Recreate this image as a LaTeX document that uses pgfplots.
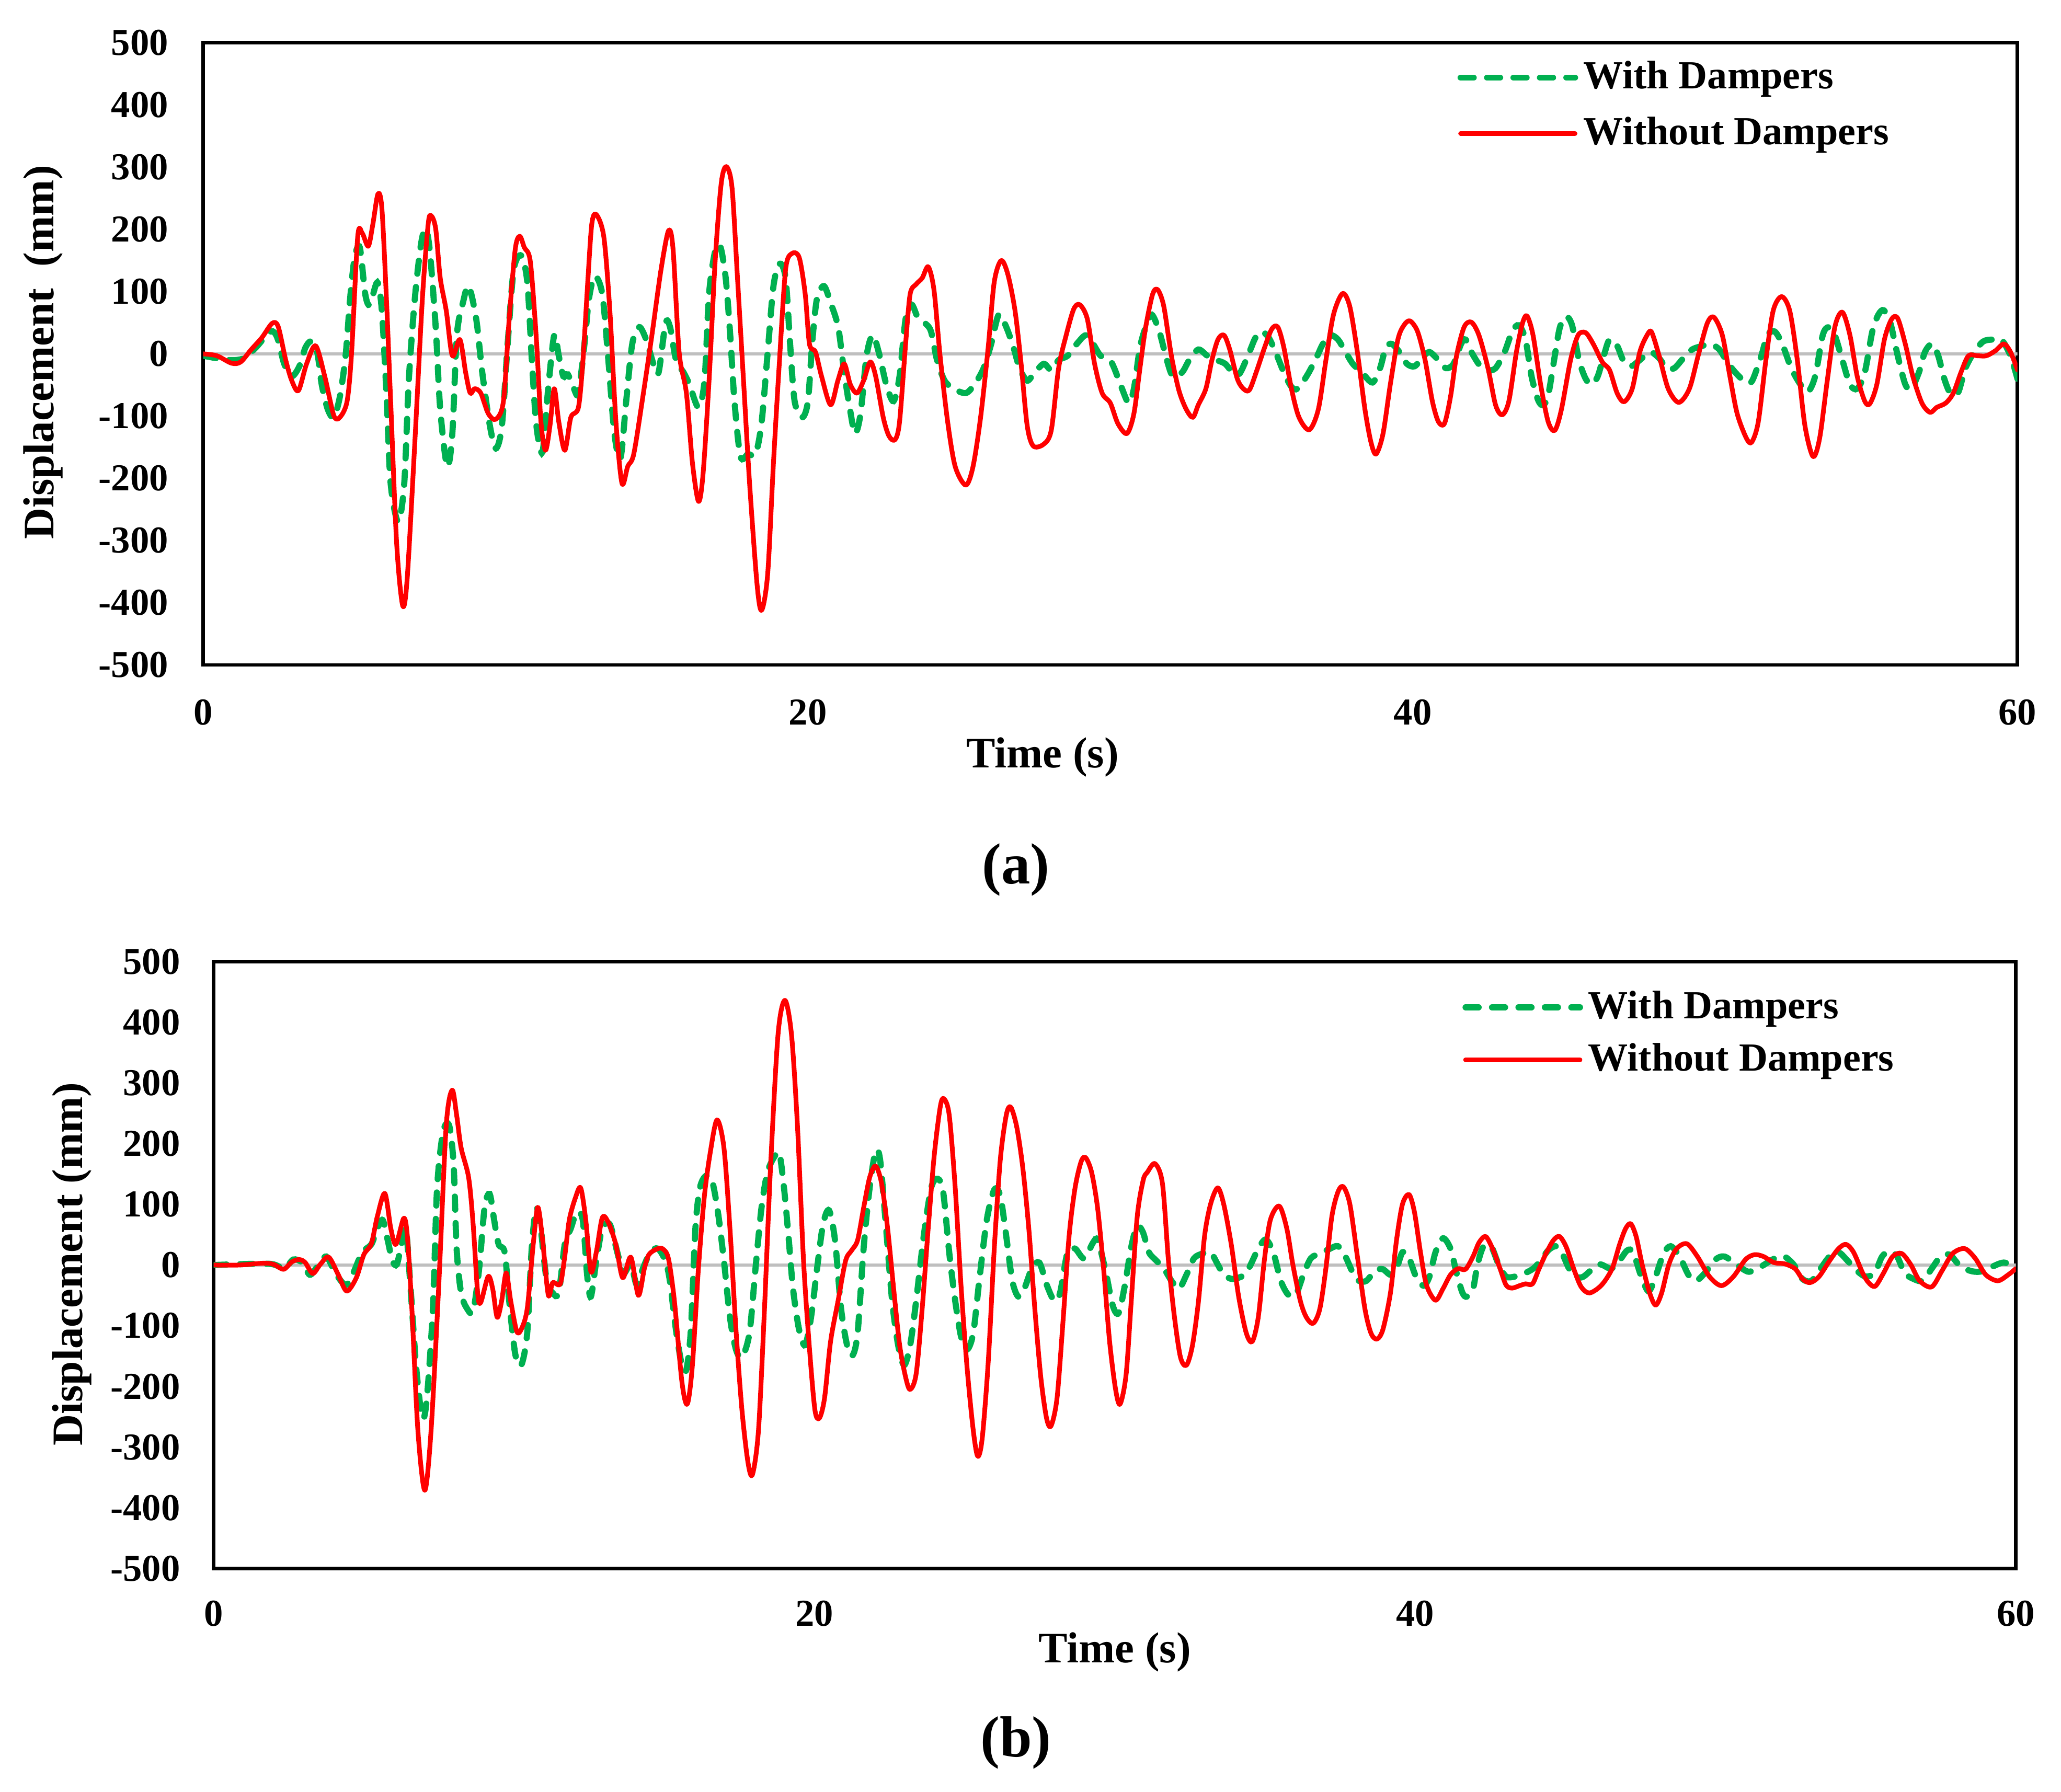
\documentclass[border=0pt]{standalone}
\usepackage{fontspec}
\setmainfont{Liberation Serif}
\usepackage{pgfplots}
\pgfplotsset{compat=1.18}
\definecolor{dgreen}{RGB}{0,176,80}
\definecolor{zgray}{RGB}{191,191,191}
\definecolor{dred}{RGB}{255,0,0}
\pgfplotsset{
  myaxis/.style={
    scale only axis, xmin=0, xmax=60, ymin=-500, ymax=500,
    xtick={0,20,40,60}, ytick={-500,-400,...,500},
    major tick length=0pt,
    axis line style={line width=1pt, black},
    /pgf/number format/assume math mode=true,
    /pgf/number format/1000 sep={},
    ticklabel style={font=\bfseries\fontsize{10.5}{12}\selectfont},
    legend cell align=left,
    legend image code/.code={\draw[##1] (0cm,0cm) -- (1.11cm,0cm);},
  },
  wd/.style={dgreen, line width=1.7pt, line cap=round, dash pattern=on 3.6pt off 3.7pt, smooth, tension=0.5},
  wo/.style={dred, line width=1.3pt, line cap=round, line join=round, smooth, tension=0.5},
}
\begin{document}
\begin{tikzpicture}
\path (0,0) rectangle (20cm,-17.392cm);
% ---------------- panel (a)
\begin{axis}[myaxis, at={(1.9716cm,-6.4536cm)}, anchor=south west, width=17.606cm, height=6.038cm,
  yticklabel style={xshift=-0.215cm}, xticklabel style={yshift=-0.21cm},
  legend style={at={(0.691,0.980)}, anchor=north west, draw=none, fill=none, inner sep=0pt,
    font=\bfseries\fontsize{11}{13}\selectfont, row sep=0.12cm, column sep=0pt, nodes={inner sep=0.05cm}}]
\addplot[zgray, line width=0.8pt, forget plot] coordinates {(0,0) (60,0)};
\addplot[wd] coordinates {
(0,-3) (0.45,-7) (0.94,-10) (1.34,-7) (1.74,10) (2.23,36) (2.45,26) (2.68,-16) (2.93,-36) (3.18,-20) (3.38,10) (3.57,20) (3.77,3) (3.92,-49) (4.12,-89) (4.32,-102) (4.52,-69) (4.71,-3) (4.86,89) (5.01,155) (5.18,171) (5.36,96) (5.51,79) (5.76,115) (5.91,69) (6.06,-63) (6.2,-208) (6.45,-270) (6.65,-208) (6.8,-43) (7.0,89) (7.2,175) (7.35,201) (7.49,168) (7.69,43) (7.84,-89) (8.07,-181) (8.24,-128) (8.39,30) (8.59,82) (8.78,109) (9.03,56) (9.23,-30) (9.48,-115) (9.68,-152) (9.88,-115) (10.08,23) (10.27,135) (10.52,158) (10.72,115) (10.87,-10) (11.02,-115) (11.22,-158) (11.41,-56) (11.61,30) (11.76,-3) (11.91,-36) (12.06,-33) (12.26,-56) (12.41,-63) (12.61,16) (12.76,89) (12.95,125) (13.2,96) (13.4,-10) (13.6,-128) (13.8,-168) (13.99,-76) (14.19,16) (14.42,43) (14.65,23) (14.89,-16) (15.06,-30) (15.29,49) (15.44,43) (15.64,-10) (15.89,-30) (16.08,-49) (16.38,-86) (16.58,-43) (16.73,96) (16.93,165) (17.1,173) (17.28,122) (17.43,30) (17.57,-76) (17.77,-165) (18.02,-161) (18.27,-161) (18.47,-109) (18.67,3) (18.86,109) (19.06,145) (19.26,122) (19.41,16) (19.56,-76) (19.81,-102) (20.0,-76) (20.15,23) (20.3,89) (20.53,109) (20.75,82) (21.0,43) (21.2,-30) (21.39,-89) (21.56,-128) (21.74,-96) (21.94,-3) (22.14,30) (22.34,3) (22.59,-49) (22.83,-76) (23.03,-36) (23.23,56) (23.43,79) (23.63,59) (23.88,49) (24.07,36) (24.27,-10) (24.52,-43) (24.82,-56) (25.22,-63) (25.51,-49) (25.81,-23) (26.06,16) (26.31,63) (26.56,43) (26.8,10) (27.0,-23) (27.25,-43) (27.5,-30) (27.8,-16) (28.05,-26) (28.29,-10) (28.59,-3) (28.89,16) (29.19,30) (29.43,16) (29.68,-3) (29.98,-10) (30.13,-23) (30.38,-55) (30.61,-79) (30.78,-56) (30.98,10) (31.17,43) (31.37,63) (31.62,36) (31.87,-10) (32.07,-36) (32.37,-30) (32.61,-10) (32.91,7) (33.21,-3) (33.51,-10) (33.8,-16) (34.1,-33) (34.3,-30) (34.6,3) (34.8,26) (35.0,36) (35.24,26) (35.49,0) (35.74,-30) (35.99,-53) (36.19,-56) (36.49,-36) (36.78,-10) (37.03,16) (37.28,30) (37.53,23) (37.78,3) (38.02,-16) (38.32,-30) (38.67,-46) (38.92,-23) (39.11,10) (39.31,16) (39.56,3) (39.81,-16) (40.06,-20) (40.31,-7) (40.55,3) (40.85,-10) (41.1,-23) (41.35,-16) (41.6,16) (41.75,23) (41.94,3) (42.24,-20) (42.49,-26) (42.74,-23) (43.04,3) (43.29,36) (43.51,46) (43.73,23) (43.93,-36) (44.13,-72) (44.28,-82) (44.47,-69) (44.72,3) (44.87,43) (45.07,60) (45.27,46) (45.5,-10) (45.72,-40) (45.92,-49) (46.12,-36) (46.32,-3) (46.51,23) (46.76,13) (46.96,-10) (47.21,-20) (47.51,-10) (47.85,3) (48.15,-7) (48.4,-23) (48.65,-23) (48.95,-7) (49.24,7) (49.59,13) (49.84,16) (50.14,7) (50.44,-16) (50.73,-33) (51.03,-46) (51.23,-43) (51.53,-3) (51.73,30) (51.97,36) (52.22,16) (52.52,-23) (52.82,-49) (53.07,-61) (53.31,-36) (53.56,30) (53.76,43) (53.96,30) (54.21,-10) (54.46,-49) (54.7,-56) (54.95,-30) (55.2,36) (55.4,63) (55.58,70) (55.8,49) (56.04,-3) (56.29,-49) (56.49,-56) (56.74,-30) (56.94,3) (57.18,16) (57.38,-3) (57.58,-40) (57.78,-63) (58.03,-63) (58.28,-23) (58.57,3) (58.87,20) (59.17,23) (59.47,23) (59.77,-3) (60,-40)
};
\addlegendentry{With Dampers}
\addplot[wo] coordinates {
(0,0) (0.45,-3) (0.94,-15) (1.24,-13) (1.59,7) (1.94,26) (2.28,49) (2.48,44) (2.73,-10) (2.93,-43) (3.15,-59) (3.42,-16) (3.72,13) (4.02,-36) (4.32,-99) (4.52,-102) (4.76,-76) (4.91,3) (5.11,188) (5.26,194) (5.46,173) (5.61,208) (5.78,257) (5.91,234) (6.06,89) (6.2,-76) (6.4,-306) (6.6,-405) (6.75,-359) (7.0,-142) (7.25,89) (7.44,208) (7.54,222) (7.69,201) (7.84,122) (8.04,69) (8.24,-3) (8.49,23) (8.68,-30) (8.83,-63) (8.98,-56) (9.18,-63) (9.43,-96) (9.68,-105) (9.93,-76) (10.12,56) (10.32,168) (10.47,189) (10.62,171) (10.82,148) (11.02,23) (11.17,-109) (11.32,-155) (11.47,-115) (11.61,-56) (11.76,-109) (11.96,-155) (12.16,-102) (12.41,-86) (12.56,-10) (12.71,109) (12.85,208) (13.0,224) (13.25,188) (13.45,69) (13.65,-109) (13.85,-208) (14.04,-181) (14.24,-161) (14.54,-69) (14.84,30) (15.14,135) (15.39,198) (15.54,168) (15.74,3) (15.98,-63) (16.18,-175) (16.38,-237) (16.53,-194) (16.73,-43) (16.93,148) (17.13,273) (17.30,301) (17.49,267) (17.67,122) (17.87,-43) (18.07,-208) (18.32,-372) (18.47,-412) (18.67,-353) (18.86,-175) (19.06,-10) (19.26,135) (19.46,161) (19.71,155) (19.91,96) (20.05,16) (20.25,3) (20.45,-36) (20.75,-82) (20.99,-43) (21.2,-16) (21.4,-49) (21.62,-63) (21.84,-43) (22.06,-13) (22.24,-36) (22.49,-102) (22.68,-132) (22.88,-138) (23.03,-109) (23.23,16) (23.38,96) (23.58,112) (23.78,122) (23.98,140) (24.17,102) (24.37,-3) (24.62,-109) (24.87,-181) (25.22,-211) (25.46,-181) (25.71,-102) (25.96,10) (26.16,115) (26.39,150) (26.61,128) (26.85,69) (27.05,-16) (27.25,-115) (27.45,-148) (27.8,-145) (28.05,-122) (28.29,-23) (28.54,30) (28.79,72) (28.99,79) (29.24,56) (29.48,-16) (29.73,-63) (30.0,-79) (30.25,-112) (30.55,-128) (30.78,-96) (30.98,-23) (31.17,43) (31.4,96) (31.57,103) (31.77,76) (32.02,-3) (32.27,-59) (32.51,-89) (32.73,-102) (32.91,-82) (33.16,-56) (33.36,-10) (33.56,23) (33.76,30) (33.95,7) (34.2,-40) (34.4,-56) (34.6,-58) (34.85,-26) (35.1,10) (35.34,40) (35.54,43) (35.74,10) (35.99,-56) (36.24,-102) (36.58,-122) (36.88,-89) (37.13,-10) (37.38,63) (37.68,97) (37.92,76) (38.17,3) (38.42,-89) (38.62,-142) (38.79,-161) (39.02,-128) (39.26,-49) (39.51,23) (39.71,46) (39.91,53) (40.16,36) (40.41,-10) (40.65,-76) (40.85,-109) (41.05,-112) (41.25,-69) (41.45,-3) (41.7,43) (41.94,51) (42.19,30) (42.49,-23) (42.74,-82) (42.96,-98) (43.18,-76) (43.43,3) (43.63,49) (43.78,61) (43.98,30) (44.23,-49) (44.48,-109) (44.7,-123) (44.92,-89) (45.22,-10) (45.47,30) (45.72,34) (45.97,16) (46.27,-13) (46.51,-26) (46.76,-63) (46.99,-77) (47.26,-56) (47.51,3) (47.75,30) (47.9,35) (48.15,-3) (48.45,-56) (48.8,-78) (49.15,-56) (49.44,-3) (49.74,49) (49.96,59) (50.24,30) (50.49,-36) (50.73,-96) (51.03,-135) (51.21,-142) (51.43,-109) (51.68,-10) (51.92,69) (52.2,92) (52.47,69) (52.72,-10) (52.97,-115) (53.24,-165) (53.46,-135) (53.71,-43) (53.96,43) (54.21,67) (54.46,30) (54.7,-36) (54.95,-76) (55.12,-80) (55.35,-49) (55.6,23) (55.84,56) (56.04,57) (56.29,16) (56.54,-36) (56.84,-79) (57.11,-94) (57.33,-86) (57.63,-79) (57.88,-63) (58.13,-30) (58.38,-3) (58.67,-3) (58.97,-3) (59.27,5) (59.55,16) (59.77,3) (60,-26)
};
\addlegendentry{Without Dampers}
\end{axis}
% ---------------- panel (b)
\begin{axis}[myaxis, at={(2.0731cm,-15.2239cm)}, anchor=south west, width=17.488cm, height=5.893cm,
  yticklabel style={xshift=-0.20cm}, xticklabel style={yshift=-0.19cm},
  legend style={at={(0.6926,0.9614)}, anchor=north west, draw=none, fill=none, inner sep=0pt,
    font=\bfseries\fontsize{11}{13}\selectfont, row sep=0.087cm, column sep=0pt, nodes={inner sep=0.05cm}}]
\addplot[zgray, line width=0.8pt, forget plot] coordinates {(0,0) (60,0)};
\addplot[wd] coordinates {
(0,0) (1.85,2) (2.35,-6) (2.65,9) (2.95,4) (3.2,-16) (3.45,-3) (3.75,14) (4.05,-13) (4.4,-33) (4.65,-13) (4.95,21) (5.25,34) (5.45,60) (5.63,74) (5.8,40) (5.95,7) (6.1,1) (6.25,34) (6.4,60) (6.55,-33) (6.75,-172) (6.95,-252) (7.1,-219) (7.3,-72) (7.44,127) (7.64,219) (7.84,230) (7.99,166) (8.09,27) (8.24,-46) (8.44,-72) (8.64,-76) (8.84,-6) (9.02,94) (9.19,117) (9.34,74) (9.49,34) (9.69,21) (9.84,-59) (10.04,-146) (10.24,-165) (10.44,-112) (10.59,27) (10.74,94) (10.89,60) (11.09,-26) (11.29,-46) (11.49,-46) (11.69,34) (11.89,60) (12.09,87) (12.29,74) (12.44,-19) (12.56,-52) (12.74,7) (12.94,60) (13.19,67) (13.44,21) (13.64,-14) (13.89,1) (14.09,-33) (14.29,-6) (14.54,21) (14.79,27) (15.04,7) (15.19,-26) (15.39,-106) (15.59,-165) (15.74,-172) (15.89,-106) (16.04,60) (16.19,127) (16.39,147) (16.59,140) (16.79,87) (16.99,7) (17.19,-86) (17.39,-139) (17.59,-152) (17.84,-112) (18.04,-6) (18.24,94) (18.44,153) (18.69,180) (18.84,183) (18.99,127) (19.14,47) (19.29,-39) (19.49,-106) (19.69,-132) (19.89,-86) (20.09,-6) (20.29,67) (20.49,90) (20.69,40) (20.89,-72) (21.09,-132) (21.27,-149) (21.44,-112) (21.64,27) (21.84,127) (22.04,187) (22.19,173) (22.39,60) (22.59,-59) (22.79,-132) (22.99,-165) (23.19,-132) (23.39,-59) (23.64,47) (23.89,127) (24.11,142) (24.29,120) (24.49,21) (24.69,-59) (24.89,-119) (25.09,-139) (25.29,-112) (25.49,-26) (25.74,74) (25.99,124) (26.19,114) (26.39,47) (26.59,-26) (26.79,-52) (26.99,-39) (27.24,-6) (27.49,4) (27.74,-33) (27.99,-59) (28.18,-46) (28.43,21) (28.68,27) (28.98,11) (29.28,37) (29.43,41) (29.68,-6) (29.93,-66) (30.13,-79) (30.34,-33) (30.54,27) (30.74,64) (30.94,54) (31.14,21) (31.39,7) (31.64,-6) (31.89,-26) (32.14,-39) (32.39,-16) (32.64,11) (32.93,19) (33.19,21) (33.43,1) (33.63,-16) (33.93,-23) (34.33,-16) (34.53,1) (34.78,27) (35.03,42) (35.28,21) (35.53,-26) (35.78,-49) (36.03,-49) (36.28,-16) (36.53,11) (36.83,19) (37.13,26) (37.43,31) (37.68,14) (37.93,-13) (38.13,-26) (38.38,-26) (38.68,-9) (38.93,-7) (39.18,-16) (39.38,-6) (39.58,21) (39.78,14) (40.03,-19) (40.28,-34) (40.48,-19) (40.68,21) (40.93,44) (41.18,27) (41.38,-13) (41.58,-46) (41.73,-52) (41.93,-39) (42.08,1) (42.28,31) (42.53,31) (42.78,1) (43.03,-19) (43.33,-19) (43.63,-14) (43.93,-6) (44.18,7) (44.43,24) (44.68,31) (44.88,21) (45.13,-6) (45.38,-19) (45.61,-19) (46.11,1) (46.51,-6) (46.76,4) (47.06,24) (47.26,21) (47.51,-16) (47.76,-43) (47.96,-26) (48.26,17) (48.51,31) (48.81,14) (49.1,-16) (49.35,-26) (49.65,-13) (50.0,9) (50.3,14) (50.7,1) (51.1,-11) (51.5,-3) (51.9,9) (52.25,15) (52.6,1) (52.9,-23) (53.2,-26) (53.5,-6) (53.8,14) (54.1,21) (54.4,7) (54.7,-9) (55.0,-19) (55.3,-13) (55.55,14) (55.8,23) (56.05,14) (56.3,-13) (56.6,-23) (56.9,-26) (57.2,-6) (57.5,14) (57.8,17) (58.1,1) (58.45,-9) (58.8,-11) (59.2,-3) (59.6,4) (60,-3)
};
\addlegendentry{With Dampers}
\addplot[wo] coordinates {
(0,0) (0.85,0) (1.65,3) (2.0,1) (2.33,-7) (2.6,5) (2.85,9) (3.05,4) (3.3,-14) (3.55,1) (3.83,13) (4.15,-16) (4.43,-43) (4.75,-21) (5.0,17) (5.25,35) (5.45,80) (5.7,118) (5.9,60) (6.07,34) (6.33,77) (6.45,47) (6.6,-72) (6.8,-272) (7.03,-371) (7.24,-272) (7.49,-39) (7.74,227) (7.94,288) (8.09,247) (8.24,193) (8.49,144) (8.64,67) (8.79,-46) (8.89,-62) (9.14,-19) (9.29,-39) (9.44,-86) (9.59,-59) (9.74,-13) (9.89,-59) (10.09,-109) (10.24,-106) (10.44,-72) (10.64,34) (10.79,95) (10.94,47) (11.14,-49) (11.29,-29) (11.54,-31) (11.69,14) (11.84,74) (12.04,110) (12.22,127) (12.39,74) (12.56,-11) (12.74,21) (12.94,78) (13.14,70) (13.39,34) (13.62,-21) (13.89,13) (14.14,-50) (14.34,-6) (14.49,17) (14.74,26) (14.94,27) (15.14,11) (15.34,-59) (15.59,-192) (15.77,-229) (15.94,-165) (16.14,-6) (16.34,114) (16.54,187) (16.76,239) (16.99,193) (17.19,60) (17.39,-106) (17.59,-239) (17.79,-325) (17.94,-345) (18.14,-272) (18.34,-72) (18.54,160) (18.79,379) (19.02,436) (19.24,379) (19.44,227) (19.64,7) (19.84,-139) (20.02,-239) (20.17,-252) (20.34,-219) (20.54,-126) (20.79,-59) (21.04,7) (21.24,24) (21.44,41) (21.64,94) (21.84,144) (22.04,163) (22.24,134) (22.44,60) (22.64,-39) (22.84,-132) (23.04,-185) (23.19,-205) (23.39,-179) (23.59,-72) (23.79,60) (23.99,180) (24.19,260) (24.31,274) (24.49,247) (24.69,127) (24.89,-39) (25.09,-172) (25.29,-272) (25.44,-315) (25.59,-285) (25.79,-159) (25.99,27) (26.19,173) (26.39,247) (26.54,260) (26.74,227) (26.94,160) (27.14,60) (27.34,-72) (27.54,-185) (27.73,-252) (27.88,-265) (28.08,-219) (28.28,-92) (28.48,47) (28.68,127) (28.88,170) (29.03,177) (29.23,153) (29.43,94) (29.63,-6) (29.83,-126) (30.03,-205) (30.18,-229) (30.38,-180) (30.55,-60) (30.75,80) (30.95,140) (31.09,153) (31.34,167) (31.59,134) (31.79,7) (31.99,-86) (32.19,-152) (32.39,-165) (32.59,-132) (32.79,-59) (32.99,47) (33.19,100) (33.43,127) (33.63,100) (33.88,34) (34.13,-53) (34.38,-112) (34.58,-126) (34.78,-86) (34.98,7) (35.18,74) (35.48,97) (35.73,60) (35.93,1) (36.18,-59) (36.38,-86) (36.61,-96) (36.83,-72) (37.03,-6) (37.23,80) (37.43,120) (37.61,129) (37.83,100) (38.08,14) (38.33,-72) (38.53,-112) (38.73,-122) (38.93,-106) (39.18,-46) (39.38,40) (39.58,100) (39.8,116) (39.98,87) (40.18,21) (40.38,-33) (40.68,-58) (40.93,-39) (41.18,-16) (41.43,-6) (41.68,-7) (41.93,14) (42.13,37) (42.35,47) (42.58,27) (42.83,-6) (43.03,-33) (43.23,-38) (43.48,-34) (43.68,-31) (43.91,-31) (44.13,-6) (44.38,21) (44.61,41) (44.81,47) (45.03,30) (45.28,-6) (45.53,-36) (45.81,-46) (46.21,-33) (46.56,-6) (46.81,34) (47.01,60) (47.18,68) (47.36,47) (47.56,1) (47.81,-46) (48.01,-66) (48.21,-46) (48.45,1) (48.71,27) (49.05,35) (49.4,14) (49.8,-19) (50.2,-34) (50.6,-19) (51.0,9) (51.3,17) (51.6,14) (51.95,4) (52.3,2) (52.65,-6) (52.9,-23) (53.15,-29) (53.45,-19) (53.8,7) (54.1,27) (54.35,34) (54.6,21) (54.9,-13) (55.1,-29) (55.32,-35) (55.6,-13) (55.9,14) (56.2,19) (56.5,1) (56.8,-26) (57.2,-36) (57.55,-9) (57.9,19) (58.3,27) (58.65,11) (59.0,-16) (59.4,-26) (59.75,-16) (60,-6)
};
\addlegendentry{Without Dampers}
\end{axis}
% ---------------- labels
\begin{scope}[every node/.style={font=\bfseries\fontsize{12}{14}\selectfont}]
\node[rotate=90] at (0.4211cm,-3.4196cm) {Displacement\ \ (mm)};
\node[rotate=90] at (0.7002cm,-12.268cm) {Displacement (mm)};
\node at (10.117cm,-7.3466cm) {Time (s)};
\node at (10.817cm,-16.033cm) {Time (s)};
\end{scope}
\node[font=\bfseries\fontsize{16}{18}\selectfont] at (9.858cm,-8.4425cm) {(a)};
\node[font=\bfseries\fontsize{16}{18}\selectfont] at (9.858cm,-16.915cm) {(b)};
\end{tikzpicture}
\end{document}
